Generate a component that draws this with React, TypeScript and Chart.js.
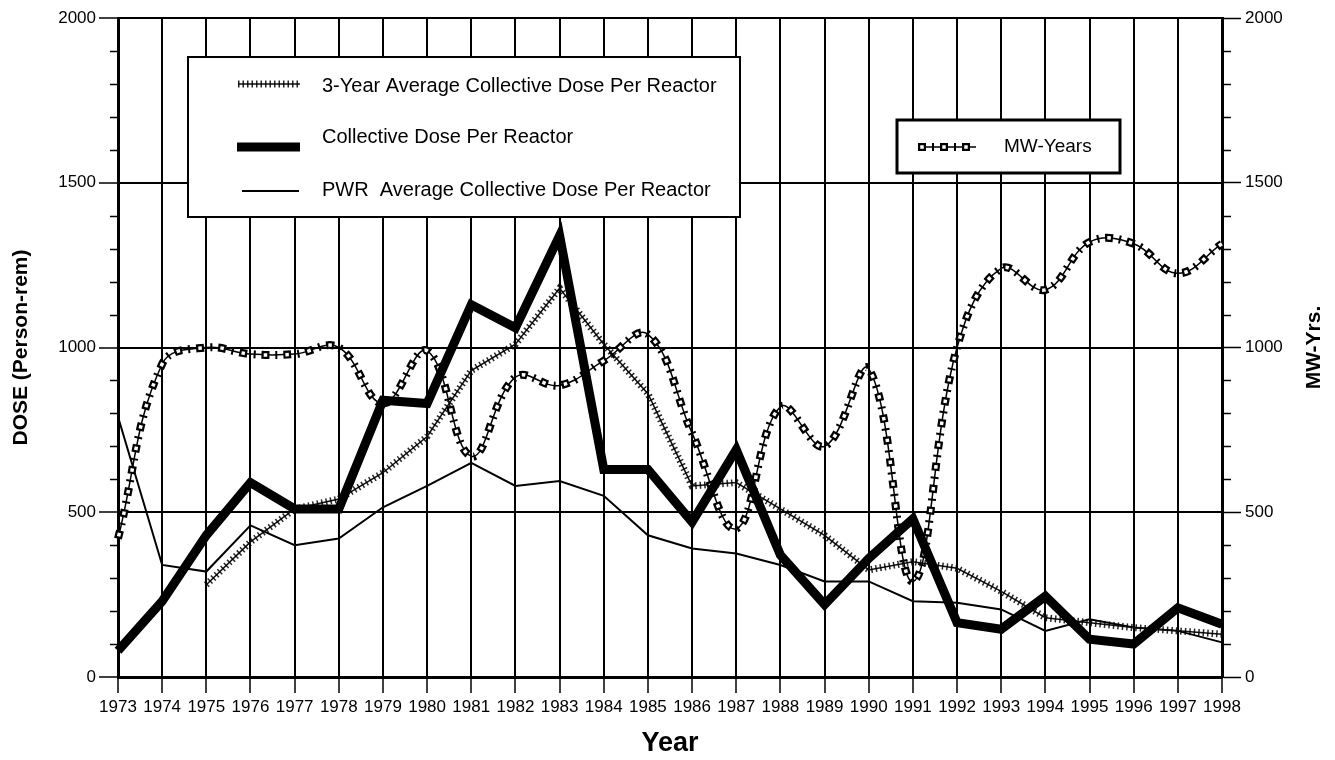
import React, { useEffect, useRef } from "react";
import { Chart, registerables } from "chart.js";

Chart.register(...registerables);

const years = [
  "1973", "1974", "1975", "1976", "1977", "1978", "1979", "1980", "1981", "1982",
  "1983", "1984", "1985", "1986", "1987", "1988", "1989", "1990", "1991", "1992",
  "1993", "1994", "1995", "1996", "1997", "1998",
];

const threeYearAvg = [
  null, null, 280, 410, 510, 540, 620, 730, 930, 1010,
  1180, 1010, 860, 580, 590, 510, 430, 325, 350, 330,
  260, 180, 165, 150, 140, 130,
];

const collectiveDose = [
  80, 230, 430, 590, 510, 510, 840, 830, 1130, 1060,
  1340, 630, 630, 470, 690, 370, 220, 360, 480, 165,
  145, 245, 115, 100, 210, 160,
];

const pwrAverage = [
  790, 340, 320, 460, 400, 420, 515, 580, 650, 580,
  595, 550, 430, 390, 375, 340, 290, 290, 230, 225,
  205, 140, 175, 150, 140, 105,
];

const mwYears = [
  420, 950, 1000, 980, 980, 1000, 830, 990, 670, 910,
  885, 960, 1040, 740, 450, 820, 700, 935, 290, 1000,
  1240, 1175, 1320, 1315, 1225, 1315,
];

const yTickValues = [0, 500, 1000, 1500, 2000];

const FONT_SANS = "'Liberation Sans', Arial, Helvetica, sans-serif";

type Layer = { color: string; width: number; dash?: number[]; offset?: number };

const STYLE_3YR: Layer[] = [
  { color: "#111", width: 1.5 },
  { color: "rgba(0,0,0,0.85)", width: 7, dash: [1.5, 3] },
];
const STYLE_COLLECTIVE: Layer[] = [{ color: "#000", width: 9 }];
const STYLE_PWR: Layer[] = [{ color: "#000", width: 2 }];
const STYLE_MW: Layer[] = [
  { color: "#000", width: 1.5 },
  { color: "#000", width: 8, dash: [2, 20], offset: 8 },
  { color: "#000", width: 8, dash: [8, 14], offset: 0 },
  { color: "#fff", width: 3.5, dash: [3.5, 18.5], offset: 19.75 },
];

function layered(
  name: string,
  data: (number | null)[],
  layers: Layer[],
  yAxisID: string,
  baseOrder: number,
  tension: number
) {
  return layers.map((l, i) => ({
    label: name + " " + i,
    data,
    yAxisID,
    borderColor: l.color,
    borderWidth: l.width,
    borderDash: l.dash || [],
    borderDashOffset: l.offset || 0,
    borderCapStyle: "butt",
    borderJoinStyle: "miter",
    tension,
    pointRadius: 0,
    pointHoverRadius: 0,
    fill: false,
    spanGaps: false,
    order: baseOrder + (layers.length - i),
  }));
}

function strokeSample(ctx: CanvasRenderingContext2D, x1: number, x2: number, y: number, layers: Layer[]) {
  for (const l of layers) {
    ctx.save();
    ctx.strokeStyle = l.color;
    ctx.lineWidth = l.width;
    ctx.lineCap = "butt";
    ctx.setLineDash(l.dash || []);
    ctx.lineDashOffset = l.offset || 0;
    ctx.beginPath();
    ctx.moveTo(x1, y);
    ctx.lineTo(x2, y);
    ctx.stroke();
    ctx.restore();
  }
}

const decorPlugin = {
  id: "decor",
  afterDraw(chart: any) {
    const ctx: CanvasRenderingContext2D = chart.ctx;
    const { left, right, top, bottom } = chart.chartArea;
    const ys = chart.scales.y;
    ctx.save();
    // minor ticks
    ctx.strokeStyle = "#000";
    ctx.lineWidth = 1.5;
    for (let v = 100; v < 2000; v += 100) {
      if (v % 500 === 0) continue;
      const py = Math.round(ys.getPixelForValue(v)) + 0.5;
      ctx.beginPath();
      ctx.moveTo(left - 8, py);
      ctx.lineTo(left, py);
      ctx.moveTo(right, py);
      ctx.lineTo(right + 9, py);
      ctx.stroke();
    }

    // legend box 1
    ctx.fillStyle = "#fff";
    ctx.fillRect(188, 57, 552, 160);
    ctx.strokeStyle = "#000";
    ctx.lineWidth = 2;
    ctx.strokeRect(188, 57, 552, 160);
    strokeSample(ctx, 238, 300, 84, STYLE_3YR);
    strokeSample(ctx, 237, 300, 147, STYLE_COLLECTIVE);
    strokeSample(ctx, 242, 299, 191, STYLE_PWR);
    ctx.fillStyle = "#000";
    ctx.font = "20px " + FONT_SANS;
    ctx.textAlign = "left";
    ctx.textBaseline = "middle";
    ctx.fillText("3-Year Average Collective Dose Per Reactor", 322, 86);
    ctx.fillText("Collective Dose Per Reactor", 322, 137);
    ctx.fillText("PWR  Average Collective Dose Per Reactor", 322, 190);

    // legend box 2
    ctx.fillStyle = "#fff";
    ctx.fillRect(897, 120, 223, 53);
    ctx.strokeStyle = "#000";
    ctx.lineWidth = 3;
    ctx.strokeRect(897, 120, 223, 53);
    strokeSample(ctx, 918, 976, 147, STYLE_MW);
    ctx.fillStyle = "#000";
    ctx.font = "19px " + FONT_SANS;
    ctx.fillText("MW-Years", 1004, 147);

    // right axis title
    ctx.translate(1314, (top + bottom) / 2);
    ctx.rotate(-Math.PI / 2);
    ctx.textAlign = "center";
    ctx.textBaseline = "middle";
    ctx.font = "bold 21px " + FONT_SANS;
    ctx.fillText("MW-Yrs.", 0, 0);
    ctx.restore();
  },
};

export default function App() {
  const ref = useRef<HTMLCanvasElement>(null);

  useEffect(() => {
    if (!ref.current) return;
    const majorColor = (c: any) =>
      c.tick && yTickValues.includes(c.tick.value) ? "#000" : "rgba(0,0,0,0)";
    const tickCallback = (v: any) => (yTickValues.includes(Number(v)) ? String(v) : "");

    const datasets = [
      ...layered("Collective Dose Per Reactor", collectiveDose, STYLE_COLLECTIVE, "y", 0, 0),
      ...layered("MW-Years", mwYears, STYLE_MW, "y1", 10, 0.4),
      ...layered("3-Year Average Collective Dose Per Reactor", threeYearAvg, STYLE_3YR, "y", 20, 0),
      ...layered("PWR Average Collective Dose Per Reactor", pwrAverage, STYLE_PWR, "y", 30, 0),
    ];

    const tickFont = { family: FONT_SANS, size: 17 };

    const chart = new Chart(ref.current, {
      type: "line",
      data: { labels: years, datasets: datasets as any },
      options: {
        responsive: false,
        devicePixelRatio: 1,
        animation: false,
        layout: { padding: { top: 18, left: 0, right: 0, bottom: 0 } },
        plugins: { legend: { display: false }, tooltip: { enabled: false } },
        scales: {
          x: {
            type: "category",
            offset: false,
            grid: { color: "#000", lineWidth: 2, tickLength: 16, tickWidth: 1.5, tickColor: "#000", offset: false },
            border: { color: "#000", width: 3 },
            ticks: {
              color: "#000",
              font: tickFont,
              maxRotation: 0,
              minRotation: 0,
              autoSkip: false,
              padding: 4,
            },
            title: {
              display: true,
              text: "Year",
              color: "#000",
              font: { family: FONT_SANS, size: 27, weight: "bold" },
              padding: { top: 0, bottom: 0 },
            },
            afterFit: (s: any) => {
              s.height = 83;
            },
          },
          y: {
            position: "left",
            min: 0,
            max: 2000,
            ticks: {
              stepSize: 100,
              autoSkip: false,
              color: "#000",
              font: tickFont,
              padding: 3,
              callback: tickCallback,
            },
            grid: { color: majorColor, tickColor: majorColor, lineWidth: 2, tickLength: 19, tickWidth: 1.5 },
            border: { color: "#000", width: 3 },
            title: {
              display: true,
              text: "DOSE (Person-rem)",
              color: "#000",
              font: { family: FONT_SANS, size: 21, weight: "bold" },
              padding: { top: 9, bottom: 0 },
            },
            afterFit: (s: any) => {
              s.width = 118;
            },
          },
          y1: {
            position: "right",
            min: 0,
            max: 2000,
            ticks: {
              stepSize: 100,
              autoSkip: false,
              color: "#000",
              font: tickFont,
              padding: 4,
              callback: tickCallback,
            },
            grid: { drawOnChartArea: false, color: majorColor, tickColor: majorColor, tickLength: 19, tickWidth: 1.5 },
            border: { color: "#000", width: 3 },
            afterFit: (s: any) => {
              s.width = 113;
            },
          },
        },
      } as any,
      plugins: [decorPlugin],
    });
    return () => chart.destroy();
  }, []);

  return (
    <div style={{ position: "absolute", left: 0, top: 0, width: 1335, height: 760, background: "#fff" }}>
      <canvas ref={ref} width={1335} height={760} style={{ display: "block" }} />
    </div>
  );
}
